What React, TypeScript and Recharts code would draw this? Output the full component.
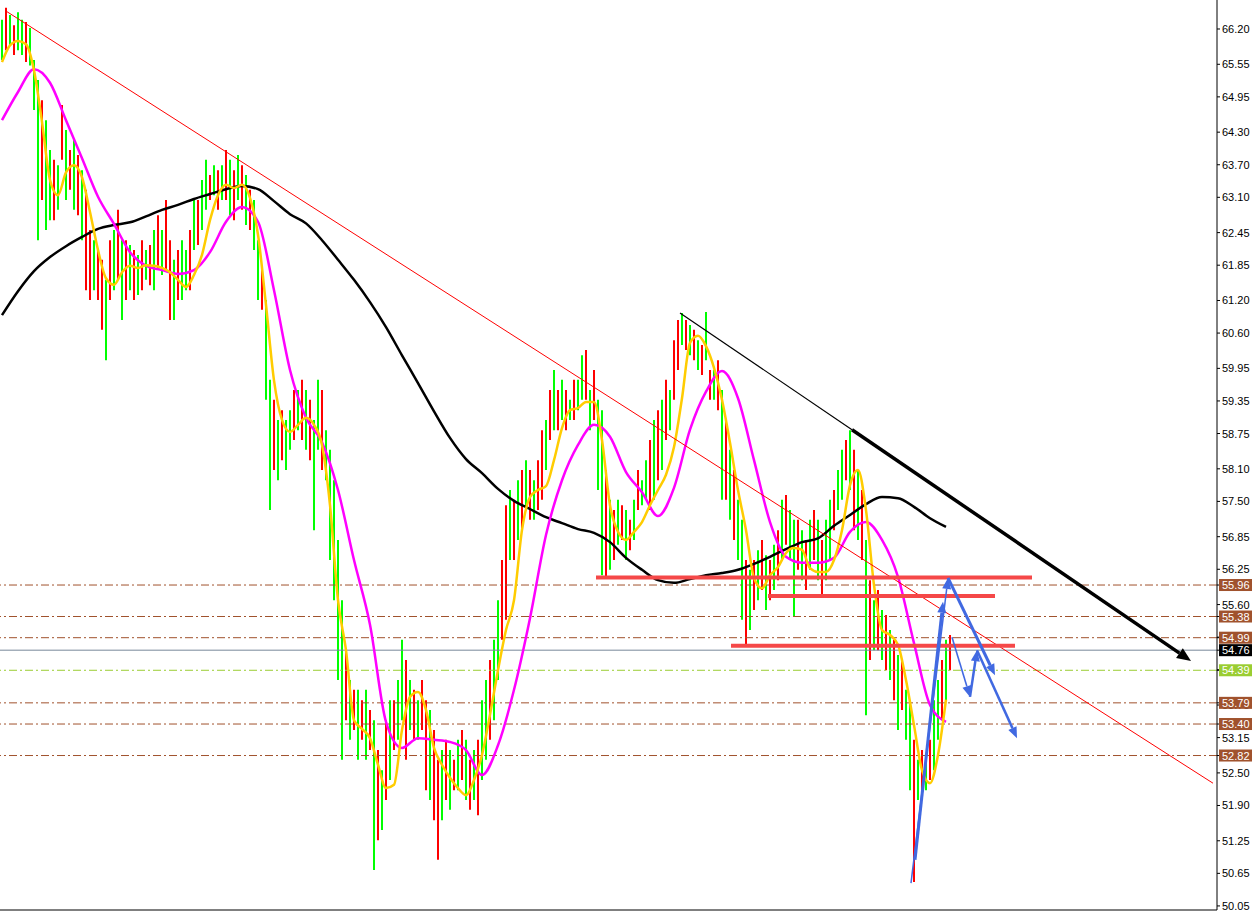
import React from 'react';
import { ComposedChart, Bar, Line, XAxis, YAxis, ReferenceLine, Cell } from 'recharts';

// ---- price bars (one per bar index) ----
const HIGH = [
  66.37, 66.59, 66.46, 66.27, 66.51, 66.37, 66.33, 66.22, 65.63, 65.26,
  64.89, 64.52, 63.97, 63.79, 63.69, 64.80, 64.34, 63.97, 64.16, 63.88,
  63.60, 63.24, 62.50, 62.31, 62.13, 61.95, 61.58, 62.31, 62.50, 62.87,
  62.31, 62.31, 62.22, 62.13, 62.04, 62.31, 62.13, 62.22, 62.50, 62.77,
  62.50, 63.05, 62.31, 61.95, 62.13, 62.31, 62.13, 62.50, 63.05, 63.05,
  63.42, 63.79, 63.51, 63.69, 63.60, 63.69, 63.97, 63.79, 63.60, 63.88,
  63.69, 63.51, 63.24, 63.05, 62.31, 61.76, 61.21, 59.74, 59.37, 59.00,
  59.18, 59.00, 59.18, 59.55, 59.55, 59.74, 59.55, 59.37, 59.00, 59.74,
  59.55, 58.81, 58.45, 57.89, 56.79, 55.68, 54.76, 54.21, 54.03, 54.03,
  53.84, 54.03, 53.66, 53.47, 52.92, 52.55, 53.47, 53.84, 53.84, 54.21,
  54.95, 54.58, 54.21, 54.03, 53.84, 54.21, 53.84, 53.66, 53.29, 52.74,
  52.92, 53.11, 52.92, 52.74, 53.11, 53.29, 53.11, 52.74, 52.92, 53.11,
  53.84, 54.21, 54.58, 54.95, 55.68, 56.42, 57.43, 57.71, 57.53, 57.89,
  58.08, 58.26, 58.08, 57.89, 58.26, 58.81, 59.00, 59.55, 59.92, 59.55,
  59.74, 59.55, 59.37, 59.74, 59.74, 60.19, 60.29, 59.55, 59.92, 59.37,
  59.18, 58.08, 57.53, 57.34, 57.53, 57.43, 57.34, 57.16, 57.53, 58.08,
  57.89, 58.26, 58.63, 59.00, 59.18, 59.37, 59.74, 59.55, 60.47, 60.84,
  60.97, 60.84, 60.75, 60.66, 60.47, 60.38, 60.99, 59.92, 59.92, 60.10,
  59.55, 59.00, 58.45, 58.08, 57.53, 57.16, 56.42, 56.24, 56.42, 56.60,
  56.79, 56.51, 56.42, 56.70, 56.97, 57.53, 57.62, 57.34, 57.16, 57.16,
  56.97, 56.79, 57.16, 57.34, 57.16, 56.79, 57.16, 57.53, 57.71, 58.08,
  58.45, 58.63, 58.81, 58.45, 58.08, 57.71, 56.79, 56.05, 55.68, 55.87,
  55.50, 55.41, 55.13, 54.95, 54.67, 54.58, 54.03, 53.84, 53.11, 52.74,
  52.92, 52.74, 53.11, 53.84, 54.21, 54.58, 54.95, 55.04,
];

const LOW = [
  65.63, 65.81, 65.90, 65.72, 65.81, 65.72, 65.59, 65.53, 64.71, 62.31,
  63.05, 62.50, 62.68, 62.68, 62.87, 63.79, 63.05, 63.24, 62.87, 62.77,
  62.31, 61.39, 61.21, 61.39, 61.21, 60.66, 60.10, 61.21, 61.39, 61.58,
  60.84, 61.21, 61.39, 61.21, 61.30, 61.39, 61.58, 61.48, 61.39, 61.76,
  61.67, 61.76, 60.84, 60.84, 61.21, 61.21, 61.39, 61.39, 62.13, 62.22,
  62.50, 62.87, 63.05, 63.14, 62.87, 63.05, 63.05, 62.77, 62.68, 63.05,
  62.87, 62.59, 62.50, 62.13, 61.21, 61.03, 59.37, 57.34, 58.08, 57.89,
  58.26, 58.08, 58.45, 58.63, 58.81, 58.63, 58.45, 58.26, 56.97, 58.45,
  58.08, 57.89, 56.42, 55.68, 54.21, 52.74, 53.47, 53.11, 53.29, 52.74,
  53.11, 52.74, 52.92, 50.71, 51.26, 51.45, 52.00, 52.37, 52.92, 53.11,
  53.47, 52.74, 53.29, 53.11, 53.11, 53.29, 52.18, 52.00, 51.63, 50.90,
  51.63, 52.00, 51.82, 52.18, 52.18, 52.37, 52.00, 51.82, 52.00, 51.72,
  52.37, 52.74, 53.11, 53.47, 54.21, 54.95, 55.32, 56.42, 56.42, 56.79,
  56.97, 57.34, 57.16, 57.16, 57.34, 57.53, 58.08, 58.63, 58.81, 58.81,
  59.00, 58.81, 59.00, 59.00, 59.18, 59.37, 59.37, 58.81, 59.00, 57.71,
  56.14, 56.09, 56.24, 56.42, 56.70, 56.79, 56.42, 56.60, 56.79, 57.34,
  57.43, 57.53, 57.34, 57.53, 57.89, 58.08, 58.63, 58.81, 59.37, 59.92,
  60.38, 60.29, 60.19, 60.10, 59.92, 59.83, 60.10, 59.37, 59.37, 59.18,
  57.53, 57.53, 57.16, 56.79, 56.42, 55.32, 54.86, 55.13, 55.50, 55.68,
  55.87, 55.50, 55.68, 55.87, 56.05, 56.42, 56.70, 56.42, 55.37, 56.24,
  56.05, 55.87, 56.24, 56.42, 56.05, 55.77, 56.05, 56.42, 56.97, 57.34,
  57.53, 57.89, 57.71, 56.97, 56.79, 56.42, 53.56, 54.58, 54.76, 54.76,
  54.58, 54.39, 54.21, 53.84, 53.29, 53.66, 53.11, 52.18, 50.49, 52.00,
  52.00, 52.18, 52.37, 52.55, 53.11, 53.47, 53.84, 54.39,
];

// u = up bar (green), d = down bar (red)
const DIRECTION = [
  'ududuudu', 'uuduudud', 'udududdu', 'ddududud', 'udududud', 'udduduud',
  'uduududu', 'dudududu', 'uduududu', 'udududuu', 'duuuuudu', 'dudududu',
  'duduudud', 'udduddud', 'udududud', 'uuduuddu', 'dudududd', 'udududud',
  'uududuud', 'udududud', 'uudududu', 'ddududud', 'udududud', 'uudududu',
  'dududuud', 'udududuu', 'duududud', 'udududud', 'uduududu', 'duudud',
].join('').split('');

// fast MA (yellow), one value every 2 bars
const MA_FAST = [
  65.59, 65.90, 65.98, 65.92, 65.44, 64.49, 63.42, 63.14, 63.56, 63.69,
  63.47, 62.83, 62.13, 61.61, 61.49, 61.72, 61.84, 61.80, 61.85, 61.84,
  61.80, 61.72, 61.58, 61.45, 61.67, 62.04, 62.68, 63.14, 63.33, 63.27,
  63.33, 63.09, 62.41, 61.12, 59.73, 59.00, 58.78, 58.91, 59.04, 58.91,
  58.54, 57.43, 55.68, 54.76, 53.47, 53.31, 53.14, 52.65, 52.22, 52.28,
  53.29, 53.90, 53.99, 53.66, 52.96, 52.65, 52.41, 52.22, 52.09, 52.37,
  52.83, 53.57, 54.39, 55.13, 55.68, 56.97, 57.58, 57.71, 57.78, 58.26,
  58.85, 59.18, 59.22, 59.33, 59.33, 58.63, 57.43, 56.94, 56.79, 56.94,
  57.12, 57.43, 57.71, 57.99, 58.50, 59.40, 60.42, 60.55, 60.36, 59.96,
  59.37, 58.58, 57.71, 56.97, 56.09, 55.90, 56.14, 56.29, 56.55, 56.64,
  56.61, 56.27, 56.20, 56.20, 56.42, 56.97, 57.80, 58.08, 57.34, 55.96,
  55.13, 55.04, 54.86, 54.21, 53.38, 52.55, 52.31, 52.83, 53.85,
];

// mid MA (magenta), one value every 4 bars
const MA_MID = [
  64.52, 65.04, 65.46, 65.21, 64.52, 63.82, 63.11, 62.61, 62.09, 61.84,
  61.76, 61.69, 61.76, 62.09, 62.65, 62.92, 62.65, 61.39, 59.92, 59.04,
  58.59, 57.71, 56.42, 55.23, 53.44, 52.96, 53.14, 53.11, 53.07, 52.92,
  52.46, 53.01, 54.03, 55.35, 56.88, 57.89, 58.54, 58.91, 58.69, 58.04,
  57.67, 57.23, 57.75, 58.82, 59.52, 59.90, 59.40, 58.26, 57.12, 56.48,
  56.37, 56.37, 56.46, 56.94, 57.12, 56.79, 56.11, 54.89, 53.75, 53.44,
];

// slow MA (black), one value every 4 bars
const MA_SLOW = [
  60.93, 61.37, 61.74, 62.00, 62.20, 62.37, 62.52, 62.59, 62.64, 62.75,
  62.87, 62.96, 63.07, 63.16, 63.25, 63.31, 63.25, 63.03, 62.79, 62.62,
  62.31, 61.95, 61.58, 61.17, 60.71, 60.19, 59.68, 59.16, 58.67, 58.28,
  58.02, 57.73, 57.51, 57.36, 57.21, 57.10, 56.99, 56.92, 56.75, 56.46,
  56.24, 56.05, 56.00, 56.07, 56.14, 56.18, 56.24, 56.35, 56.48, 56.62,
  56.75, 56.82, 57.05, 57.25, 57.45, 57.58, 57.56, 57.40, 57.19, 57.03,
];

// ---- axes ----
const PRICE_TICKS = [
  66.2, 65.55, 64.95, 64.3, 63.7, 63.1, 62.45, 61.85, 61.2, 60.6, 59.95, 59.35,
  58.75, 58.1, 57.5, 56.85, 56.25, 55.6, 55.0, 54.4, 53.75, 53.15, 52.5, 51.9,
  51.25, 50.65, 50.05,
];
const TIME_TICKS = [11.5, 27.5, 43.5, 59.5, 75.5, 91.5, 107.5, 123.5, 139.5, 155.5, 171.5, 187.5, 203.5, 219.5, 235.5];

// ---- horizontal price levels ----
const LEVELS = [55.96, 55.38, 54.99, 54.76, 54.39, 53.79, 53.4, 52.82];
const LEVEL_FILL = ['#a0522d', '#a0522d', '#a0522d', '#000000', '#9acd32', '#a0522d', '#a0522d', '#a0522d'];
const LEVEL_LINE = ['#a0522d', '#a0522d', '#a0522d', '#778899', '#9acd32', '#a0522d', '#a0522d', '#a0522d'];
const LEVEL_DASH = ['8 3 2 3', '8 3 2 3', '8 3 2 3', '', '8 3 2 3', '8 3 2 3', '8 3 2 3', '8 3 2 3'];

// ---- drawn objects (bar index, price) ----
const RED_TREND = [{ x: 1, y: 66.53 }, { x: 302.75, y: 52.31 }];
const BLACK_TREND = [{ x: 169.5, y: 60.97 }, { x: 212.5, y: 58.82 }];
const BLACK_ARROW = [{ x: 212.5, y: 58.82 }, { x: 297.25, y: 54.56 }];
const SUPPORT_PRICES = [56.1, 55.76, 54.84];
const SUPPORT_FROM = [148.5, 191.5, 182.25];
const SUPPORT_TO = [257.5, 248.25, 253.25];
const BLUE_ARROWS = [
  [{ x: 227.25, y: 50.47 }, { x: 236.5, y: 56.09 }],
  [{ x: 228.25, y: 50.9 }, { x: 235.25, y: 55.65 }],
  [{ x: 236.5, y: 56.09 }, { x: 248.25, y: 54.3 }],
  [{ x: 237.5, y: 55.0 }, { x: 242, y: 53.9 }],
  [{ x: 242, y: 53.9 }, { x: 243.75, y: 54.76 }],
  [{ x: 243.75, y: 54.76 }, { x: 253.75, y: 53.14 }],
];
const BLUE_WIDTH = [1.5, 3, 3, 1.6, 2.5, 2.5];

const rows = HIGH.map((h, i) => ({ i, hl: [LOW[i], h] }));
const fastRows = MA_FAST.map((v, k) => ({ i: k * 2, v }));
const midRows = MA_MID.map((v, k) => ({ i: k * 4, v }));
const slowRows = MA_SLOW.map((v, k) => ({ i: k * 4, v }));

const FONT = '"Liberation Sans", Arial, sans-serif';

const PriceTick = (props: any) => {
  const { x, y, payload } = props;
  const v = Number(payload.value);
  const k = LEVELS.indexOf(v);
  if (k >= 0) {
    return (
      <g>
        <rect x={x - 3} y={y - 6} width={33} height={12} fill={LEVEL_FILL[k]} />
        <text x={x} y={y + 4} fontSize={11} fontFamily={FONT} fill="#ffffff">
          {v.toFixed(2)}
        </text>
      </g>
    );
  }
  return (
    <text x={x} y={y + 4} fontSize={11} fontFamily={FONT} fill="#000000">
      {v.toFixed(2)}
    </text>
  );
};

const arrowShape = (color: string, width: number, len: number, half: number) => (p: any) => {
  const { x1, y1, x2, y2 } = p;
  if ([x1, y1, x2, y2].some((v) => typeof v !== 'number' || isNaN(v))) return <g />;
  const a = Math.atan2(y2 - y1, x2 - x1);
  const bx = x2 - len * Math.cos(a);
  const by = y2 - len * Math.sin(a);
  const px = -Math.sin(a) * half;
  const py = Math.cos(a) * half;
  return (
    <g>
      <line x1={x1} y1={y1} x2={bx} y2={by} stroke={color} strokeWidth={width} />
      <polygon points={`${x2},${y2} ${bx + px},${by + py} ${bx - px},${by - py}`} fill={color} />
    </g>
  );
};

export default function App() {
  return (
    <div style={{ position: 'absolute', left: 0, top: 0, width: 1254, height: 913, background: '#ffffff' }}>
      <ComposedChart width={1254} height={913} data={rows} margin={{ top: 0, right: 0, bottom: 0, left: 0 }}>
        <XAxis
          dataKey="i"
          type="number"
          domain={[-0.5, 303.75]}
          allowDataOverflow
          ticks={TIME_TICKS}
          tick={false}
          tickSize={3}
          height={3}
          axisLine={{ stroke: '#000000' }}
          tickLine={{ stroke: '#000000' }}
        />
        <YAxis
          orientation="right"
          width={37}
          type="number"
          domain={[49.975, 66.734]}
          allowDataOverflow
          ticks={[...PRICE_TICKS, ...LEVELS]}
          interval={0}
          tickSize={3}
          tickMargin={2}
          tick={<PriceTick />}
          axisLine={{ stroke: '#000000' }}
          tickLine={{ stroke: '#000000' }}
        />
        {LEVELS.map((v, k) => (
          <ReferenceLine
            key={'lvl' + k}
            y={v}
            stroke={LEVEL_LINE[k]}
            strokeWidth={1}
            strokeDasharray={LEVEL_DASH[k] || undefined}
          />
        ))}
        <Bar dataKey="hl" barSize={2} isAnimationActive={false}>
          {rows.map((r, i) => (
            <Cell key={i} fill={DIRECTION[i] === 'u' ? '#00ff00' : '#ff0000'} />
          ))}
        </Bar>
        <Line data={slowRows} dataKey="v" type="monotone" stroke="#000000" strokeWidth={2.5} dot={false} activeDot={false} isAnimationActive={false} />
        <Line data={midRows} dataKey="v" type="monotone" stroke="#ff00ff" strokeWidth={2.5} dot={false} activeDot={false} isAnimationActive={false} />
        <Line data={fastRows} dataKey="v" type="monotone" stroke="#ffcc00" strokeWidth={2.5} dot={false} activeDot={false} isAnimationActive={false} />
        <ReferenceLine segment={RED_TREND} stroke="#ff0000" strokeWidth={1} />
        {SUPPORT_PRICES.map((p, k) => (
          <ReferenceLine
            key={'sup' + k}
            segment={[{ x: SUPPORT_FROM[k], y: p }, { x: SUPPORT_TO[k], y: p }]}
            stroke="#f54848"
            strokeWidth={4}
          />
        ))}
        <ReferenceLine segment={BLACK_TREND} stroke="#000000" strokeWidth={1.2} />
        <ReferenceLine segment={BLACK_ARROW} shape={arrowShape('#000000', 3.5, 14, 6)} />
        {BLUE_ARROWS.map((seg, k) => (
          <ReferenceLine key={'blue' + k} segment={seg} shape={arrowShape('#4169e1', BLUE_WIDTH[k], 11, 4.5)} />
        ))}
      </ComposedChart>
    </div>
  );
}
